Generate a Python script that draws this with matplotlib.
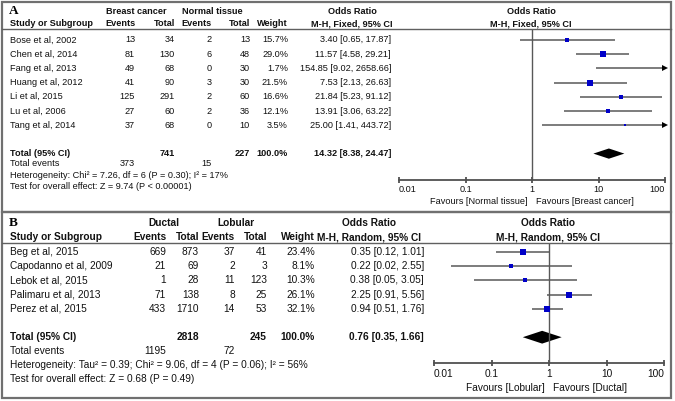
import matplotlib.pyplot as plt
import numpy as np
from matplotlib.patches import Rectangle, Polygon
from matplotlib.lines import Line2D
from matplotlib.ticker import NullLocator

W, H = 675, 401

# ---- panel A: breast cancer vs normal tissue ----
a_study = ["Bose et al, 2002", "Chen et al, 2014", "Fang et al, 2013", "Huang et al, 2012",
           "Li et al, 2015", "Lu et al, 2006", "Tang et al, 2014"]
a_ev1 = [13, 81, 49, 41, 125, 27, 37]
a_tot1 = [34, 130, 68, 90, 291, 60, 68]
a_ev2 = [2, 6, 0, 3, 2, 2, 0]
a_tot2 = [13, 48, 30, 30, 60, 36, 10]
a_weight = [15.7, 29.0, 1.7, 21.5, 16.6, 12.1, 3.5]
a_or = [3.40, 11.57, 154.85, 7.53, 21.84, 13.91, 25.00]
a_lo = [0.65, 4.58, 9.02, 2.13, 5.23, 3.06, 1.41]
a_hi = [17.87, 29.21, 2658.66, 26.63, 91.12, 63.22, 443.72]
a_total = (741, 227, 14.32, 8.38, 24.47)
a_events = (373, 15)
a_het = "Heterogeneity: Chi\u00b2 = 7.26, df = 6 (P = 0.30); I\u00b2 = 17%"
a_test = "Test for overall effect: Z = 9.74 (P < 0.00001)"

# ---- panel B: ductal vs lobular ----
b_study = ["Beg et al, 2015", "Capodanno et al, 2009", "Lebok et al, 2015",
           "Palimaru et al, 2013", "Perez et al, 2015"]
b_ev1 = [669, 21, 1, 71, 433]
b_tot1 = [873, 69, 28, 138, 1710]
b_ev2 = [37, 2, 11, 8, 14]
b_tot2 = [41, 3, 123, 25, 53]
b_weight = [23.4, 8.1, 10.3, 26.1, 32.1]
b_or = [0.35, 0.22, 0.38, 2.25, 0.94]
b_lo = [0.12, 0.02, 0.05, 0.91, 0.51]
b_hi = [1.01, 2.55, 3.05, 5.56, 1.76]
b_total = (2818, 245, 0.76, 0.35, 1.66)
b_events = (1195, 72)
b_het = "Heterogeneity: Tau\u00b2 = 0.39; Chi\u00b2 = 9.06, df = 4 (P = 0.06); I\u00b2 = 56%"
b_test = "Test for overall effect: Z = 0.68 (P = 0.49)"

ticks = [0.01, 0.1, 1, 10, 100]
tick_labels = ["0.01", "0.1", "1", "10", "100"]

plt.rcParams['font.family'] = ['Liberation Sans Narrow', 'Liberation Sans', 'DejaVu Sans']
LINE = '#585858'
BLUE = '#0000c8'

fig = plt.figure(figsize=(W / 100, H / 100), dpi=100)


def fx(x):
    return x / W


def fy(y):
    return 1 - y / H


def panel(lay, label, g1, g2, method, study, ev1, tot1, ev2, tot2, weight, orr, lo, hi,
          total, events, het, test, fav_l, fav_r):
    top, bot, fs = lay['top'], lay['bot'], lay['fs']

    def txt(x, y, s, ha='left', bold=False):
        fig.text(fx(x), fy(y), s, ha=ha, va='center', fontsize=fs,
                 fontweight='bold' if bold else 'normal', color='#111111')

    # border
    fig.patches.append(Rectangle((fx(2), fy(bot)), fx(671) - fx(2), (bot - top) / H,
                                 transform=fig.transFigure, fill=False, ec='#707070', lw=1.6))
    cx = lay['cols']
    row0, rh = lay['row0'], lay['rowh']

    def ry(i):
        return row0 + i * rh

    # headers
    fig.text(fx(9), fy(lay['hy1']), label, ha='left', va='center', fontsize=9.5,
             fontweight='bold', family='Liberation Serif')
    txt(lay['g1c'], lay['hy1'], g1, ha='center', bold=True)
    txt(lay['g2c'], lay['hy1'], g2, ha='center', bold=True)
    txt(lay['orc'], lay['hy1'], "Odds Ratio", ha='center', bold=True)
    txt(lay['plc'], lay['hy1'], "Odds Ratio", ha='center', bold=True)
    txt(10, lay['hy2'], "Study or Subgroup", bold=True)
    for x, s in zip(cx[:5], ["Events", "Total", "Events", "Total", "Weight"]):
        txt(x, lay['hy2'], s, ha='right', bold=True)
    txt(lay['orc'], lay['hy2'], "M-H, %s, 95%% CI" % method, ha='center', bold=True)
    txt(lay['plc'], lay['hy2'], "M-H, %s, 95%% CI" % method, ha='center', bold=True)
    fig.add_artist(Line2D([fx(2), fx(671)], [fy(lay['uline'])] * 2, color='#606060', lw=1.0))

    n = len(study)
    for i in range(n):
        y = ry(i)
        txt(10, y, study[i])
        vals = [ev1[i], tot1[i], ev2[i], tot2[i], "%.1f%%" % weight[i],
                "%.2f [%.2f, %.2f]" % (orr[i], lo[i], hi[i])]
        for x, v in zip(cx, vals):
            txt(x, y, str(v), ha='right')
    ti = n + 1
    txt(10, ry(ti), "Total (95% CI)", bold=True)
    txt(cx[1], ry(ti), str(total[0]), ha='right', bold=True)
    txt(cx[3], ry(ti), str(total[1]), ha='right', bold=True)
    txt(cx[4], ry(ti), "100.0%", ha='right', bold=True)
    txt(cx[5], ry(ti), "%.2f [%.2f, %.2f]" % total[2:], ha='right', bold=True)
    txt(10, lay['ey'], "Total events")
    txt(cx[0], lay['ey'], str(events[0]), ha='right')
    txt(cx[2], lay['ey'], str(events[1]), ha='right')
    txt(10, lay['hety'], het)
    txt(10, lay['testy'], test)

    # forest plot
    x0, x1, ay = lay['x01'], lay['x100'], lay['axis']
    ax = fig.add_axes([fx(x0), fy(ay), (x1 - x0) / W, (ay - lay['uline']) / H])
    ax.patch.set_alpha(0)
    ax.set_xscale('log')
    ax.set_xlim(0.01, 100)
    ax.set_ylim((ay - row0) / rh, (lay['uline'] - row0) / rh)
    for s in ['top', 'right', 'left']:
        ax.spines[s].set_visible(False)
    ax.spines['bottom'].set_color('#505050')
    ax.spines['bottom'].set_linewidth(1.3)
    ax.set_yticks([])
    ax.set_xticks(ticks)
    ax.set_xticklabels(tick_labels)
    ax.xaxis.set_minor_locator(NullLocator())
    ax.tick_params(axis='x', direction='inout', length=5, width=1.3, color='#505050',
                   labelsize=fs, labelcolor='#111111', pad=lay['tpad'])
    # end labels sit inside the axis span
    tl = ax.get_xticklabels()
    tl[0].set_ha('left')
    tl[-1].set_ha('right')
    ax.axvline(1, color=LINE, lw=1.0)
    for i in range(n):
        l, h = max(lo[i], 0.01), min(hi[i], 100)
        ax.plot([l, h], [i, i], color=LINE, lw=1.1, solid_capstyle='butt')
        if 0.01 <= orr[i] <= 100:
            ax.plot(orr[i], i, 's', ms=0.5 + 0.75 * np.sqrt(weight[i]), color=BLUE, mew=0)
        if hi[i] > 100:
            ax.plot(100, i, '>', ms=4, color='black', mew=0, clip_on=False)
    dh = lay['dh']
    ax.add_patch(Polygon([(total[3], ti), (total[2], ti - dh), (total[4], ti), (total[2], ti + dh)],
                         closed=True, color='black', lw=0))
    ax.annotate(fav_l, xy=(1, 0), xycoords=('data', 'axes fraction'), xytext=(-4, -lay['favd']),
                textcoords='offset pixels', ha='right', va='center', fontsize=fs, color='#111111')
    ax.annotate(fav_r, xy=(1, 0), xycoords=('data', 'axes fraction'), xytext=(4, -lay['favd']),
                textcoords='offset pixels', ha='left', va='center', fontsize=fs, color='#111111')


lay_a = dict(top=2, bot=212, fs=6.6, hy1=11, hy2=24, uline=29, row0=40, rowh=14.2,
             cols=[135, 175, 212, 250, 288, 391], g1c=136, g2c=212, orc=352, plc=531,
             ey=163, hety=175, testy=187, x01=399, x100=665, axis=180, tpad=1,
             favd=21, dh=0.36)
lay_b = dict(top=212, bot=398, fs=7.3, hy1=223, hy2=237, uline=243, row0=252, rowh=14.2,
             cols=[166, 199, 235, 267, 315, 424], g1c=164, g2c=236, orc=369, plc=548,
             ey=351, hety=365, testy=379, x01=434, x100=664, axis=363, tpad=2,
             favd=25, dh=0.45)

panel(lay_a, "A", "Breast cancer", "Normal tissue", "Fixed", a_study, a_ev1, a_tot1, a_ev2,
      a_tot2, a_weight, a_or, a_lo, a_hi, a_total, a_events, a_het, a_test,
      "Favours [Normal tissue]", "Favours [Breast cancer]")
panel(lay_b, "B", "Ductal", "Lobular", "Random", b_study, b_ev1, b_tot1, b_ev2,
      b_tot2, b_weight, b_or, b_lo, b_hi, b_total, b_events, b_het, b_test,
      "Favours [Lobular]", "Favours [Ductal]")

fig.savefig("out.png", dpi=100, facecolor='white')
